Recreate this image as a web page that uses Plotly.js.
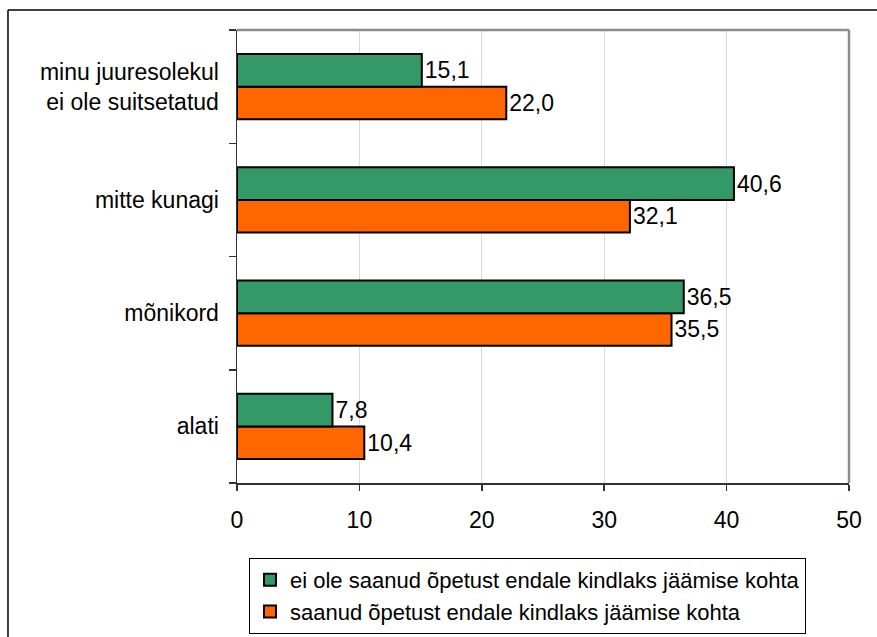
<!DOCTYPE html>
<html>
<head>
<meta charset="utf-8">
<script src="https://cdn.plot.ly/plotly-3.0.1.min.js"></script>
<style>
  html, body { margin: 0; padding: 0; background: #fff; }
  #chart { width: 877px; height: 637px; }
</style>
</head>
<body>
<div id="chart"></div>
<script>
// Categories (bottom to top)
const categories = ['alati', 'mõnikord', 'mitte kunagi', 'minu juuresolekul<br>ei ole suitsetatud'];
// Series values
const notTaught = [7.8, 36.5, 40.6, 15.1];   // ei ole saanud õpetust ...
const taught = [10.4, 35.5, 32.1, 22.0];     // saanud õpetust ...
const seriesNames = [
  'ei ole saanud õpetust endale kindlaks jäämise kohta',
  'saanud õpetust endale kindlaks jäämise kohta'
];
const xTicks = [0, 10, 20, 30, 40, 50];

const fmt = v => v.toFixed(1).replace('.', ',');
const FONT = 'Liberation Sans, Arial, sans-serif';
const FS = 23;

const traces = [
  {
    type: 'bar', orientation: 'h', name: seriesNames[1],
    y: categories, x: taught,
    text: taught.map(fmt), textposition: 'outside', cliponaxis: false,
    constraintext: 'none',
    textfont: {family: FONT, size: FS, color: '#000'},
    marker: {color: '#FF6600', line: {color: '#000', width: 2}},
    hoverinfo: 'none'
  },
  {
    type: 'bar', orientation: 'h', name: seriesNames[0],
    y: categories, x: notTaught,
    text: notTaught.map(fmt), textposition: 'outside', cliponaxis: false,
    constraintext: 'none',
    textfont: {family: FONT, size: FS, color: '#000'},
    marker: {color: '#339966', line: {color: '#000', width: 2}},
    hoverinfo: 'none'
  }
];

const layout = {
  width: 877, height: 637,
  margin: {l: 237, r: 28, t: 30, b: 154, autoexpand: false},
  paper_bgcolor: '#fff', plot_bgcolor: '#fff',
  font: {family: FONT, size: FS, color: '#000'},
  barmode: 'group', bargap: 0.426, bargroupgap: 0,
  showlegend: true,
  legend: {
    x: 0.0196, xanchor: 'left', y: -0.1656, yanchor: 'top',
    traceorder: 'reversed',
    bordercolor: '#000', borderwidth: 1, bgcolor: '#fff',
    font: {family: FONT, size: 22, color: '#000'},
    itemwidth: 30, tracegroupgap: 0
  },
  xaxis: {
    range: [0, 50], tickvals: xTicks, ticktext: xTicks.map(String),
    showgrid: true, gridcolor: '#d9d9d9', gridwidth: 1,
    showline: true, linecolor: '#333', linewidth: 1.5,
    ticks: 'outside', ticklen: 6, tickcolor: '#333', tickwidth: 1.5,
    ticklabelstandoff: 10,
    zeroline: false, fixedrange: true
  },
  yaxis: {
    type: 'category', categoryorder: 'array', categoryarray: categories,
    showgrid: false,
    showline: true, linecolor: '#333', linewidth: 1.5,
    ticks: 'outside', ticklen: 7, tickcolor: '#333', tickwidth: 1.5,
    tickson: 'boundaries', ticklabelstandoff: 12,
    zeroline: false, fixedrange: true
  },
  shapes: [
    // grey top and right plot border
    {type: 'line', xref: 'paper', yref: 'paper', x0: 0, x1: 1, y0: 1, y1: 1,
     line: {color: '#8c8c8c', width: 2.5}},
    {type: 'line', xref: 'paper', yref: 'paper', x0: 1, x1: 1, y0: 0, y1: 1,
     line: {color: '#8c8c8c', width: 2.5}},
    // outer chart frame (left and top edges visible)
    {type: 'line', xref: 'paper', yref: 'paper', x0: -0.3742, x1: 1.1, y0: 1.0442, y1: 1.0442,
     line: {color: '#000', width: 1.5}},
    {type: 'line', xref: 'paper', yref: 'paper', x0: -0.3742, x1: -0.3742, y0: -0.4, y1: 1.0442,
     line: {color: '#000', width: 1.5}}
  ]
};

Plotly.newPlot('chart', traces, layout, {displayModeBar: false, staticPlot: true});
</script>
</body>
</html>
